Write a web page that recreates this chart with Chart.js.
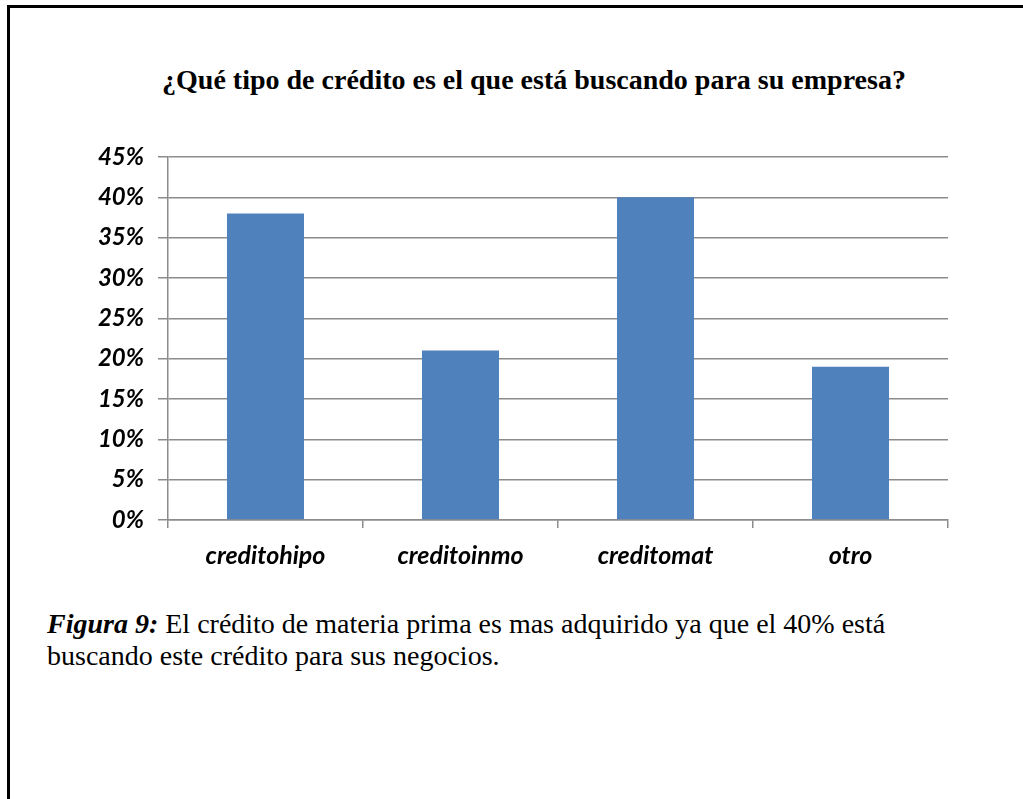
<!DOCTYPE html>
<html>
<head>
<meta charset="utf-8">
<script src="https://cdn.jsdelivr.net/npm/chart.js@4.4.0/dist/chart.umd.min.js"></script>
<style>
  html, body { margin: 0; padding: 0; background: #fff; }
  body { width: 1023px; height: 799px; position: relative; overflow: hidden; }
  .frame {
    position: absolute; left: 7px; top: 5px; width: 1030px; height: 820px;
    border-left: 3px solid #000; border-top: 3px solid #000;
  }
  .title {
    position: absolute; left: 84px; width: 900px; top: 64px;
    text-align: center; font: bold 28px "Liberation Serif", "Times New Roman", serif; color: #000;
  }
  #wrap { position: absolute; left: 0; top: 0; width: 1023px; height: 600px; }
  .caption {
    position: absolute; left: 47px; top: 608px; width: 960px;
    font: 28px/32px "Liberation Serif", "Times New Roman", serif; color: #000;
  }
  .caption b { font-style: italic; }
</style>
</head>
<body>
<div class="frame"></div>
<div class="title">¿Qué tipo de crédito es el que está buscando para su empresa?</div>
<div id="wrap"><canvas id="chart" width="1023" height="600"></canvas></div>
<div class="caption"><b>Figura 9:</b> El crédito de materia prima es mas adquirido ya que el 40% está<br>buscando este crédito para sus negocios.</div>
<script>
  const categories = ['creditohipo', 'creditoinmo', 'creditomat', 'otro'];
  const values = [38, 21, 40, 19];
  const yTicks = [0, 5, 10, 15, 20, 25, 30, 35, 40, 45];

  const yFont = { family: 'Lato, "Open Sans", sans-serif', size: 24, style: 'italic', weight: 'bold' };
  const xFont = { family: 'Lato, "Open Sans", sans-serif', size: 25, style: 'italic', weight: 'bold' };

  new Chart(document.getElementById('chart'), {
    type: 'bar',
    data: {
      labels: categories,
      datasets: [{
        data: values,
        backgroundColor: '#4F81BD',
        borderWidth: 0,
        categoryPercentage: 1,
        barPercentage: 0.395
      }]
    },
    options: {
      responsive: false,
      animation: false,
      layout: { padding: { left: 40, right: 75, top: 157, bottom: 20 } },
      plugins: { legend: { display: false }, title: { display: false }, tooltip: { enabled: false } },
      scales: {
        x: {
          grid: { display: true, drawOnChartArea: false, drawTicks: true, tickLength: 8, color: '#8c8c8c', lineWidth: 1.5 },
          border: { display: true, color: '#8c8c8c', width: 1.5 },
          ticks: { color: '#000', font: xFont, padding: 13 },
          afterFit: s => { s.height = 60; }
        },
        y: {
          min: 0, max: 45,
          afterBuildTicks: s => { s.ticks = yTicks.map(v => ({ value: v })); },
          grid: { color: '#8c8c8c', lineWidth: 1.5, tickLength: 10 },
          border: { display: true, color: '#8c8c8c', width: 1.5 },
          ticks: { color: '#000', font: yFont, padding: 14, callback: v => v + '%' },
          afterFit: s => { s.width = 128; }
        }
      }
    }
  });
</script>
</body>
</html>
